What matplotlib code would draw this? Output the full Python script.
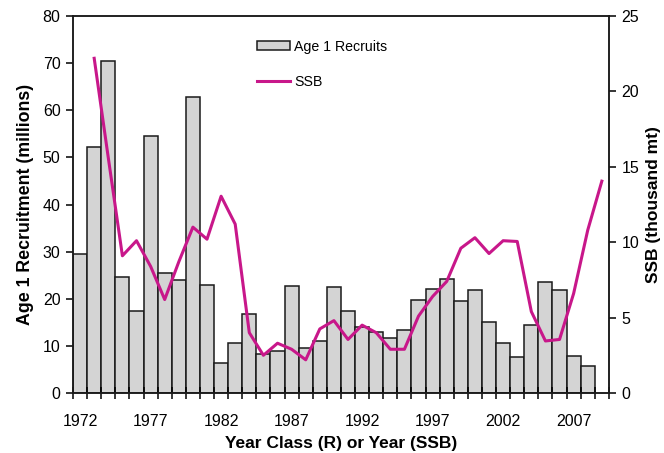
import matplotlib
matplotlib.use("Agg")
import matplotlib.pyplot as plt
import numpy as np

plt.rcParams['font.family'] = ['Liberation Sans', 'DejaVu Sans']

# Data
rec_years = list(range(1972, 2009))
recruits = [29.5, 52.3, 70.5, 24.7, 17.3, 54.5, 25.4, 24.0, 62.8, 22.9,
            6.4, 10.7, 16.7, 8.2, 9.0, 22.8, 9.6, 11.1, 22.6, 17.3,
            13.9, 13.0, 11.6, 13.3, 19.7, 22.1, 24.1, 19.6, 21.9, 15.0,
            10.6, 7.7, 14.5, 23.5, 21.8, 7.9, 5.7]
ssb_years = list(range(1973, 2010))
ssb = [22.2, 15.6, 9.1, 10.1, 8.4, 6.2, 8.7, 11.0, 10.2, 13.05,
       11.2, 4.0, 2.5, 3.3, 2.9, 2.2, 4.25, 4.8, 3.55, 4.5,
       4.0, 2.9, 2.9, 5.1, 6.4, 7.4, 9.6, 10.3, 9.25, 10.1,
       10.05, 5.4, 3.45, 3.55, 6.6, 10.8, 14.05]
label_years = [1972, 1977, 1982, 1987, 1992, 1997, 2002, 2007]

fig = plt.figure(figsize=(6.64, 4.53), dpi=100)
ax = fig.add_axes([0.110, 0.1325, 0.807, 0.832])
ax2 = ax.twinx()

bars = ax.bar(rec_years, recruits, width=1.0, color='#d4d4d4',
              edgecolor='#1a1a1a', linewidth=1.1, label='Age 1 Recruits')
line, = ax2.plot(ssb_years, ssb, color='#c8178a', linewidth=2.2, label='SSB')

ax.set_xlim(rec_years[0] - 0.5, ssb_years[-1] + 0.5)
ax.set_ylim(0, 80)
ax2.set_ylim(0, 25)
ax.set_yticks(np.arange(0, 81, 10))
ax2.set_yticks(np.arange(0, 26, 5))

ax.set_xticks(np.arange(rec_years[0] - 0.5, ssb_years[-1] + 1.0, 1.0))
ax.set_xticklabels([])
ax.set_xticks(label_years, [str(y) for y in label_years], minor=True)
ax.tick_params(axis='x', which='major', direction='inout', length=9, width=1.1)
ax.tick_params(axis='x', which='minor', length=0, pad=15, labelsize=11.5)
ax.tick_params(axis='y', direction='out', length=5, width=1.1, labelsize=11.5, pad=4)
ax2.tick_params(axis='y', direction='out', length=5, width=1.1, labelsize=11.5, pad=4)

for a in (ax, ax2):
    for s in a.spines.values():
        s.set_linewidth(1.1)
        s.set_color('#1a1a1a')

ax.set_ylabel('Age 1 Recruitment (millions)', fontsize=12.8, fontweight='bold', labelpad=6)
ax2.set_ylabel('SSB (thousand mt)', fontsize=12.5, fontweight='bold', labelpad=5)
ax.set_xlabel('Year Class (R) or Year (SSB)', fontsize=12.5, fontweight='bold', labelpad=5)

ax.legend(handles=[bars, line], loc='upper left', bbox_to_anchor=(0.379, 0.925),
          bbox_transform=fig.transFigure, frameon=False, fontsize=10.2,
          handlelength=2.3, handleheight=0.55, handletextpad=0.3,
          labelspacing=1.5, borderaxespad=0)

fig.savefig('out.png', dpi=100)
